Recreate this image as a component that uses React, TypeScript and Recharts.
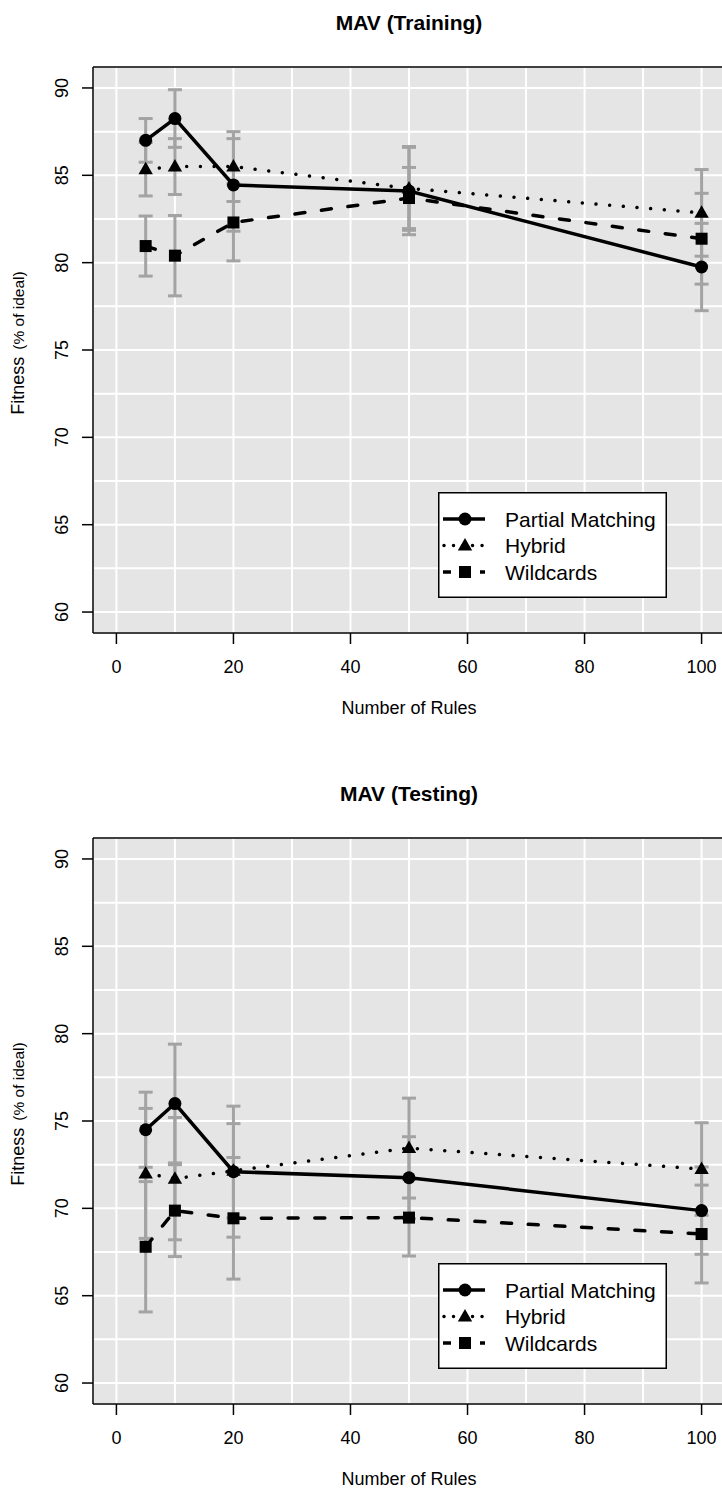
import { LineChart, Line, XAxis, YAxis, CartesianGrid, ErrorBar, ReferenceLine, Legend } from "recharts";

// number of rules on the x axis
const rules = [5, 10, 20, 50, 100];

// training fitness (% of ideal), means and standard deviations
const trainPartial = [87.0, 88.25, 84.45, 84.1, 79.75];
const trainPartialSd = [1.25, 1.65, 2.65, 2.5, 2.5];
const trainHybrid = [85.35, 85.5, 85.5, 84.25, 82.85];
const trainHybridSd = [1.53, 1.6, 2.0, 2.4, 2.48];
const trainWild = [80.95, 80.4, 82.3, 83.7, 81.37];
const trainWildSd = [1.72, 2.3, 2.2, 1.75, 2.6];

// testing fitness (% of ideal)
const testPartial = [74.5, 76.0, 72.1, 71.75, 69.87];
const testPartialSd = [2.15, 3.4, 3.75, 2.35, 2.5];
const testHybrid = [72.0, 71.7, 72.15, 73.45, 72.25];
const testHybridSd = [3.72, 3.5, 2.7, 2.86, 2.65];
const testWild = [67.8, 69.87, 69.43, 69.47, 68.53];
const testWildSd = [3.73, 2.63, 3.48, 2.2, 2.8];

// grid every 10 / 2.5, labels every 20 / 5
const xGrid = [0, 10, 20, 30, 40, 50, 60, 70, 80, 90, 100];
const xLabels = [0, 20, 40, 60, 80, 100];
const yGrid = [60, 62.5, 65, 67.5, 70, 72.5, 75, 77.5, 80, 82.5, 85, 87.5, 90];
const yLabels = [60, 65, 70, 75, 80, 85, 90];
const xDomain = [-4, 104];
const yDomain = [58.8, 91.2];

const seriesNames = ["Partial Matching", "Hybrid", "Wildcards"];

const FONT = '"Liberation Sans", Arial, Helvetica, sans-serif';
const BG = "#e5e5e5";
const BAR = "#a3a3a3";
const LW = 3.5;

const W = 760;
const H = 771;

type Row = {
  rules: number;
  partial: number;
  partialSd: number;
  hybrid: number;
  hybridSd: number;
  wild: number;
  wildSd: number;
};

function buildRows(
  pm: number[], pmSd: number[],
  hy: number[], hySd: number[],
  wc: number[], wcSd: number[]
): Row[] {
  return rules.map((r, i) => ({
    rules: r,
    partial: pm[i],
    partialSd: pmSd[i],
    hybrid: hy[i],
    hybridSd: hySd[i],
    wild: wc[i],
    wildSd: wcSd[i],
  }));
}

const trainRows = buildRows(trainPartial, trainPartialSd, trainHybrid, trainHybridSd, trainWild, trainWildSd);
const testRows = buildRows(testPartial, testPartialSd, testHybrid, testHybridSd, testWild, testWildSd);

function CircleMark({ cx, cy }: { cx: number; cy: number }) {
  return <circle cx={cx} cy={cy} r={6.5} fill="#000" />;
}

function TriangleMark({ cx, cy }: { cx: number; cy: number }) {
  return <polygon points={`${cx},${cy - 7.5} ${cx - 7.2},${cy + 5} ${cx + 7.2},${cy + 5}`} fill="#000" />;
}

function SquareMark({ cx, cy }: { cx: number; cy: number }) {
  return <rect x={cx - 6} y={cy - 6} width={12} height={12} fill="#000" />;
}

function XTick({ x, y, payload }: any) {
  if (!xLabels.includes(payload.value)) return <g />;
  return (
    <g>
      <line x1={x} x2={x} y1={y} y2={y + 11} stroke="#000" strokeWidth={1.5} />
      <text x={x} y={y + 40} textAnchor="middle" fontSize={18} fontFamily={FONT} fill="#000">
        {payload.value}
      </text>
    </g>
  );
}

function YTick({ x, y, payload }: any) {
  if (!yLabels.includes(payload.value)) return <g />;
  const tx = x - 25;
  return (
    <g>
      <line x1={x - 11} x2={x} y1={y} y2={y} stroke="#000" strokeWidth={1.5} />
      <text
        x={tx}
        y={y}
        transform={`rotate(-90 ${tx} ${y})`}
        textAnchor="middle"
        fontSize={18}
        fontFamily={FONT}
        fill="#000"
      >
        {payload.value}
      </text>
    </g>
  );
}

function LegendBox() {
  const rowY = [27, 53.5, 80];
  return (
    <svg width={229} height={106} style={{ display: "block" }}>
      <rect x={0.75} y={0.75} width={227.5} height={104.5} fill="#fff" stroke="#000" strokeWidth={1.5} />
      <line x1={5} x2={47} y1={rowY[0]} y2={rowY[0]} stroke="#000" strokeWidth={LW} />
      <CircleMark cx={27} cy={rowY[0]} />
      <line
        x1={6}
        x2={47}
        y1={rowY[1]}
        y2={rowY[1]}
        stroke="#000"
        strokeWidth={LW}
        strokeDasharray="0.01 9.5"
        strokeLinecap="round"
      />
      <TriangleMark cx={27} cy={rowY[1]} />
      <line x1={5} x2={47} y1={rowY[2]} y2={rowY[2]} stroke="#000" strokeWidth={LW} strokeDasharray="8 29" />
      <SquareMark cx={27} cy={rowY[2]} />
      {seriesNames.map((name, i) => (
        <text key={name} x={67} y={rowY[i] + 7.5} fontSize={21} fontFamily={FONT} fill="#000">
          {name}
        </text>
      ))}
    </svg>
  );
}

function FitnessChart({ title, data }: { title: string; data: Row[] }) {
  return (
    <div style={{ width: W, height: H }}>
      <LineChart width={W} height={H} data={data} margin={{ top: 67, right: 35, bottom: 0, left: 0 }}>
        <CartesianGrid stroke="#fff" strokeWidth={2} fill={BG} fillOpacity={1} />
        <XAxis
          dataKey="rules"
          type="number"
          domain={xDomain}
          allowDataOverflow
          ticks={xGrid}
          interval={0}
          height={138}
          tickSize={0}
          tickMargin={0}
          tickLine={false}
          tick={<XTick />}
          axisLine={{ stroke: "#000", strokeWidth: 1.5 }}
        />
        <YAxis
          type="number"
          domain={yDomain}
          allowDataOverflow
          ticks={yGrid}
          interval={0}
          width={93}
          tickSize={0}
          tickMargin={0}
          tickLine={false}
          tick={<YTick />}
          axisLine={{ stroke: "#000", strokeWidth: 1.5 }}
        />
        <ReferenceLine y={yDomain[1]} stroke="#000" strokeWidth={1.5} />

        {/* error bars go underneath every line */}
        <Line dataKey="partial" stroke="none" dot={false} activeDot={false} isAnimationActive={false} legendType="none">
          <ErrorBar dataKey="partialSd" width={7} stroke={BAR} strokeWidth={3} direction="y" isAnimationActive={false} />
        </Line>
        <Line dataKey="hybrid" stroke="none" dot={false} activeDot={false} isAnimationActive={false} legendType="none">
          <ErrorBar dataKey="hybridSd" width={7} stroke={BAR} strokeWidth={3} direction="y" isAnimationActive={false} />
        </Line>
        <Line dataKey="wild" stroke="none" dot={false} activeDot={false} isAnimationActive={false} legendType="none">
          <ErrorBar dataKey="wildSd" width={7} stroke={BAR} strokeWidth={3} direction="y" isAnimationActive={false} />
        </Line>

        <Line
          type="linear"
          dataKey="hybrid"
          stroke="#000"
          strokeWidth={LW}
          strokeDasharray="0.01 13.7"
          strokeLinecap="round"
          dot={(p: any) => <TriangleMark key={`hy-${p.index}`} cx={p.cx} cy={p.cy} />}
          activeDot={false}
          isAnimationActive={false}
        />
        <Line
          type="linear"
          dataKey="wild"
          stroke="#000"
          strokeWidth={LW}
          strokeDasharray="10 16.7"
          strokeLinecap="round"
          dot={(p: any) => <SquareMark key={`wc-${p.index}`} cx={p.cx} cy={p.cy} />}
          activeDot={false}
          isAnimationActive={false}
        />
        <Line
          type="linear"
          dataKey="partial"
          stroke="#000"
          strokeWidth={LW}
          dot={(p: any) => <CircleMark key={`pm-${p.index}`} cx={p.cx} cy={p.cy} />}
          activeDot={false}
          isAnimationActive={false}
        />

        <Legend
          layout="vertical"
          align="center"
          verticalAlign="middle"
          content={() => <LegendBox />}
          wrapperStyle={{ position: "absolute", left: 438, top: 492, width: 229, height: 106 }}
        />

        <text x={409} y={30} textAnchor="middle" fontSize={21} fontWeight="bold" fontFamily={FONT} fill="#000">
          {title}
        </text>
        <text x={409} y={714} textAnchor="middle" fontSize={18} fontFamily={FONT} fill="#000">
          Number of Rules
        </text>
        <text x={24} y={343} transform="rotate(-90 24 343)" textAnchor="middle" fontFamily={FONT} fill="#000">
          <tspan fontSize={18}>Fitness</tspan>
          <tspan fontSize={15.5} dx={7}>(% of ideal)</tspan>
        </text>
      </LineChart>
    </div>
  );
}

export default function App() {
  return (
    <div
      style={{
        position: "absolute",
        left: 0,
        top: 0,
        width: 722,
        height: 1490,
        overflow: "hidden",
        background: "#fff",
      }}
    >
      <FitnessChart title="MAV (Training)" data={trainRows} />
      <FitnessChart title="MAV (Testing)" data={testRows} />
    </div>
  );
}
